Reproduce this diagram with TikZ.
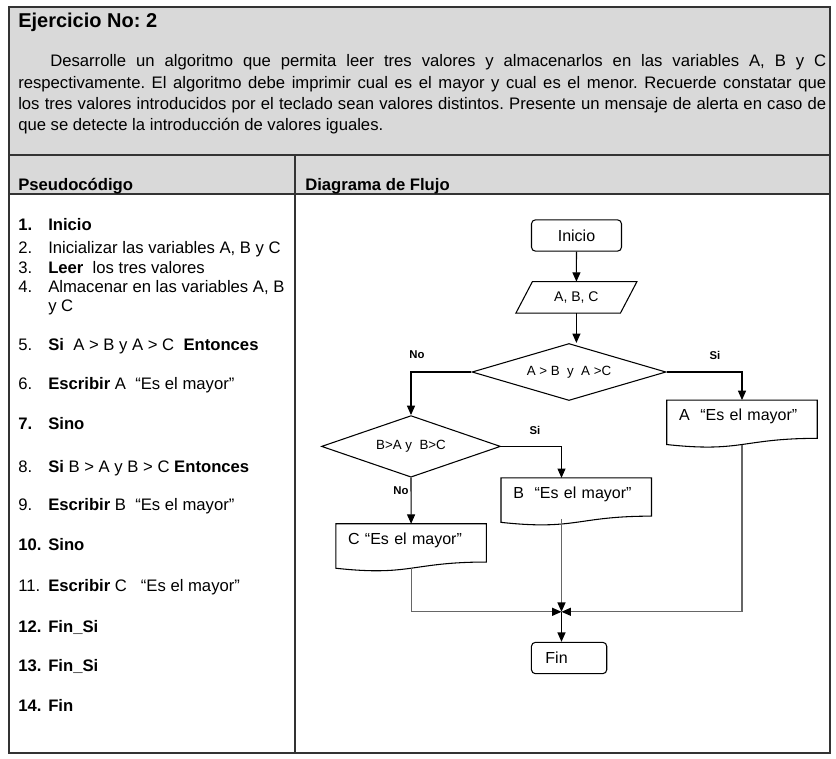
\documentclass[tikz,border=0pt]{standalone}
\usepackage{fontspec}
\setmainfont{Liberation Sans}
\usetikzlibrary{arrows.meta,shapes.geometric}
\frenchspacing

\definecolor{celda}{RGB}{217,217,217}
\definecolor{borde}{RGB}{51,51,51}

\tikzset{
  flecha/.style={line width=0.8pt, -{Triangle[length=7pt,width=6pt]}},
  retorno/.style={black!60, line width=0.8pt, -{Triangle[length=7pt,width=6pt,color=black]}},
  terminal/.style={draw, rounded corners=3pt, line width=0.8pt, minimum height=23.5pt,
    inner sep=0pt, font=\fontsize{12}{14}\selectfont},
  decision/.style={draw, diamond, aspect=3, inner sep=0pt, line width=0.8pt,
    font=\fontsize{10}{12}\selectfont},
  docbox/.style={minimum width=112.5pt, minimum height=28.3pt, text width=94.5pt,
    text height=9pt, text depth=7pt,
    inner xsep=9pt, inner ysep=0pt, align=left, font=\fontsize{12}{14}\selectfont},
  etiq/.style={inner sep=0pt, font=\fontsize{8.5}{10}\selectfont\bfseries},
  pseudo/.style={anchor=base west, inner sep=0pt, font=\fontsize{12.5}{15}\selectfont}
}

\begin{document}
\begin{tikzpicture}[x=0.75pt, y=-0.75pt]
  \useasboundingbox (0,0) rectangle (836,758);

  % tabla
  \fill[celda] (9,7) rectangle (830,194);
  \draw[borde, line width=0.9pt] (9,7) rectangle (830,753);
  \draw[borde, line width=0.9pt] (9,155) -- (830,155) (9,194) -- (830,194) (295,155) -- (295,753);

  \node[pseudo, font=\fontsize{15}{18}\selectfont\bfseries] (titulo) at (18,27) {Ejercicio No: 2};
  \node[pseudo] (parr1) at (50,66) {\makebox[582pt][s]{Desarrolle un algoritmo que permita leer tres valores y almacenarlos en las variables A, B y C}};
  \node[pseudo] (parr2) at (18,88) {\makebox[606pt][s]{respectivamente. El algoritmo debe imprimir cual es el mayor y cual es el menor. Recuerde constatar que}};
  \node[pseudo] (parr3) at (18,109) {\makebox[606pt][s]{los tres valores introducidos por el teclado sean valores distintos. Presente un mensaje de alerta en caso de}};
  \node[pseudo] (parr4) at (18,130) {que se detecte la introducción de valores iguales.};

  \node[pseudo, font=\fontsize{12.5}{15}\selectfont\bfseries] (colPseudo) at (18,190) {Pseudocódigo};
  \node[pseudo, font=\fontsize{12.5}{15}\selectfont\bfseries] (colFlujo) at (305,190) {Diagrama de Flujo};

  \foreach \i/\yy/\nro/\texto in {
      1/230/\textbf{1.}/\textbf{Inicio},
      2/253/2./{Inicializar las variables A, B y C},
      3/273/3./{\textbf{Leer}\ \ los tres valores},
      4/292/4./{Almacenar en las variables A, B},
      4b/311//{y C},
      5/350/5./{\textbf{Si}\ \ A > B y A > C\ \ \textbf{Entonces}},
      6/389/6./{\textbf{Escribir} A\ \ “Es el mayor”},
      7/429/\textbf{7.}/\textbf{Sino},
      8/472/8./{\textbf{Si} B > A y B > C \textbf{Entonces}},
      9/510/9./{\textbf{Escribir} B\ \ “Es el mayor”},
      10/550/\textbf{10.}/\textbf{Sino},
      11/591/11./{\textbf{Escribir} C\ \ \ “Es el mayor”},
      12/632/\textbf{12.}/\textbf{Fin\_Si},
      13/671/\textbf{13.}/\textbf{Fin\_Si},
      14/711/\textbf{14.}/\textbf{Fin}} {
    \node[pseudo] (num\i) at (18,\yy) {\nro};
    \node[pseudo] (paso\i) at (48,\yy) {\texto};
  }

  % diagrama
  \node[terminal, minimum width=67.5pt] (inicio) at (576.5,235.5) {Inicio};
  \node[minimum width=78pt, minimum height=23.25pt, inner sep=0pt,
    font=\fontsize{10.5}{12}\selectfont] (datos) at (576.4,297.4) {A, B, C};
  \draw[line width=0.8pt] ([xshift=6.2pt]datos.north west) -- ([xshift=6.2pt]datos.north east)
    -- ([xshift=-6.2pt]datos.south east) -- ([xshift=-6.2pt]datos.south west) -- cycle;
  \node[decision, minimum width=145.5pt, minimum height=42.75pt] (cond1) at (569,372) {A > B\ \ y\ \ A >C};
  \node[decision, minimum width=134.25pt, minimum height=46.2pt] (cond2) at (411,446.4) {B>A y\ \ B>C};
  \node[docbox] (mayA) at (742,419.2) {A\ \ “Es el mayor”};
  \node[docbox] (mayB) at (576.25,497) {B\ \ “Es el mayor”};
  \node[docbox] (mayC) at (411.1,542.9) {C “Es el mayor”};
  \foreach \d in {mayA,mayB,mayC}
    \draw[line width=0.8pt] ([yshift=-4.65pt]\d.south west) -- (\d.north west) -- (\d.north east)
      -- (\d.south east) .. controls (\d.south) and ([yshift=-10.8pt]\d.south)
      .. ([yshift=-4.65pt]\d.south west) -- cycle;
  \coordinate (junta) at (561.5,611.8);
  \node[terminal, text width=35.5pt, inner xsep=10.5pt, align=left] (fin) at (569.1,658) {Fin};

  \draw[flecha] (inicio) -- (datos);
  \draw[flecha] (datos) -- (datos.south |- cond1.north);
  \draw[flecha] (cond1.west) -| (cond2.north);
  \draw[flecha] (cond1.east) -| (mayA.north);
  \draw[flecha] (cond2.east) -| (mayB.north -| junta);
  \draw[flecha] (cond2.south) -- (mayC.north);
  \draw[retorno] ([yshift=-4.65pt]mayC.south) |- (junta);
  \draw[retorno] ([yshift=-2pt]mayB.south -| junta) -- (junta);
  \draw[retorno] ([yshift=-4.65pt]mayA.south) |- (junta);
  \draw[flecha] (junta) -- (junta |- fin.north);

  \node[etiq] (no1) at (417,355) {No};
  \node[etiq] (si1) at (715,355) {Si};
  \node[etiq] (si2) at (535,430) {Si};
  \node[etiq] (no2) at (401,491) {No};
\end{tikzpicture}
\end{document}
